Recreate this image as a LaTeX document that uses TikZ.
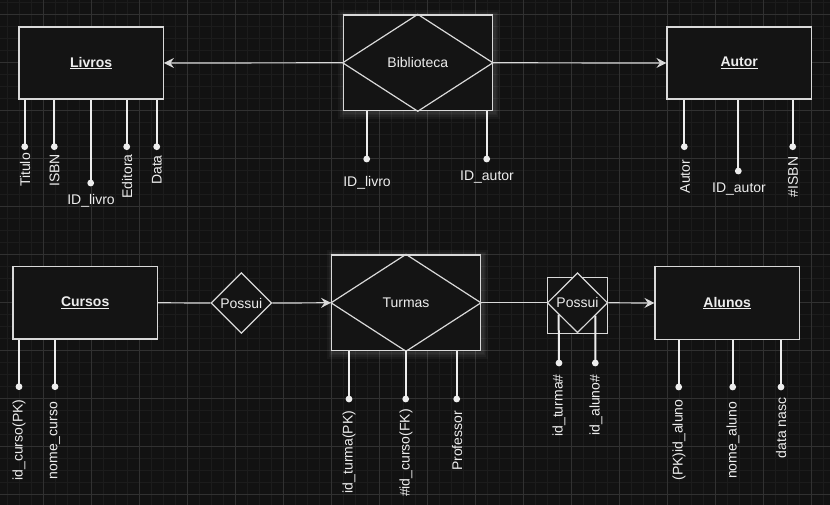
\documentclass[tikz,border=0pt]{standalone}
\usepackage{fontspec}
\setmainfont{Liberation Sans}
\usetikzlibrary{arrows.meta,shapes.geometric,calc}
\pgfdeclarelayer{bg}
\pgfsetlayers{bg,main}
\definecolor{bgc}{HTML}{121212}
\definecolor{minorc}{HTML}{1C1C1C}
\definecolor{majorc}{HTML}{313131}
\definecolor{edgec}{HTML}{D9D9D9}
\definecolor{txtc}{HTML}{EDEDED}
\definecolor{boxc}{HTML}{141414}
\newcommand\myfs{\fontsize{14}{16.8}\selectfont}
\begin{document}
\begin{tikzpicture}[x=1pt,y=-1pt,
  ent/.style={draw=edgec, fill=boxc, line width=1.2pt, inner sep=0pt,
    minimum width=144.3pt, minimum height=72pt, text=txtc, font=\myfs\bfseries},
  relbox/.style={draw=edgec, fill=boxc, line width=1.2pt, inner sep=0pt, text=txtc, font=\myfs},
  reldia/.style={diamond, draw=edgec, fill=boxc, line width=1.2pt, inner sep=0pt, text=txtc, font=\myfs,
    minimum width=60.7pt, minimum height=60.7pt},
  conn/.style={draw=edgec, line width=1.2pt},
  arr/.style={conn, -{Stealth[length=10pt,width=10pt,inset=3.5pt]}},
  attr/.style={draw=txtc, line width=2pt},
  dot/.style={circle, fill=txtc, inner sep=0pt, minimum size=6.8pt},
  lbl/.style={text=txtc, font=\myfs, inner sep=0pt},
  vlbl/.style={lbl, rotate=90},
  minorgrid/.style={draw=minorc, line width=1pt},
  majorgrid/.style={draw=majorc, line width=1pt},
  glow/.style={draw=white, line width=#1, opacity=0.035}
]
\useasboundingbox (0,0) rectangle (830,505);
\begin{pgfonlayer}{bg}
\begin{scope}
\clip (0,0) rectangle (830,505);
\fill[bgc] (0,0) rectangle (830,505);
\foreach \k in {1,...,69} \draw[minorgrid] ({-4.7+12*\k},0) -- ({-4.7+12*\k},505);
\foreach \k in {3,...,44} \draw[minorgrid] (0,{-33.7+12*\k}) -- (830,{-33.7+12*\k});
\foreach \k in {1,...,17} \draw[majorgrid] ({-4.7+48*\k},0) -- ({-4.7+48*\k},505);
\foreach \k in {1,...,11} \draw[majorgrid] (0,{-33.7+48*\k}) -- (830,{-33.7+48*\k});
\end{scope}
\end{pgfonlayer}

% ---------- top row ----------
\node[ent] (livros) at (91.2,63) {\underline{Livros}};
\node[ent] (autor) at (739.2,63) {\underline{Autor}};
\node[relbox, minimum width=149pt, minimum height=95.7pt] (bib) at (417.8,62.8) {};
\draw[conn] (bib.north) -- (bib.east) -- (bib.south) -- (bib.west) -- cycle;
\node[lbl] (bibt) at (bib.center) {Biblioteca};

\draw[arr] (bib.west) -- (livros.east);
\draw[arr] (bib.east) -- (autor.west);

% Livros attributes
\node[dot] (lv1) at (24.7,146.7) {};
\node[dot] (lv2) at (54.3,146.7) {};
\node[dot] (lv3) at (90.7,183) {};
\node[dot] (lv4) at (126.7,146.7) {};
\node[dot] (lv5) at (156.7,146.7) {};
\foreach \d in {lv1,lv2,lv3,lv4,lv5} \draw[attr] (livros.south -| \d) -- (\d.center);
\node[vlbl] (lvl1) at (25,170) {Titulo};
\node[vlbl] (lvl2) at (54.5,170.5) {ISBN};
\node[lbl] (lvl3) at (91,201) {ID\_livro};
\node[vlbl] (lvl4) at (127,176.5) {Editora};
\node[vlbl] (lvl5) at (157,170) {Data};

% Biblioteca attributes
\node[dot] (bi1) at (366.7,159) {};
\node[dot] (bi2) at (486.7,159) {};
\foreach \d in {bi1,bi2} \draw[attr] (bib.south -| \d) -- (\d.center);
\node[lbl] (bil1) at (367,183) {ID\_livro};
\node[lbl] (bil2) at (487,177.5) {ID\_autor};

% Autor attributes
\node[dot] (au1) at (684.3,146.7) {};
\node[dot] (au2) at (738.3,171) {};
\node[dot] (au3) at (792.7,146.7) {};
\foreach \d in {au1,au2,au3} \draw[attr] (autor.south -| \d) -- (\d.center);
\node[vlbl] (aul1) at (685,176.5) {Autor};
\node[lbl] (aul2) at (739,189) {ID\_autor};
\node[vlbl] (aul3) at (793,177) {\#ISBN};

% ---------- bottom row ----------
\node[ent, minimum height=72.3pt] (cursos) at (85.2,302.8) {\underline{Cursos}};
\node[reldia] (p1) at (241.3,303) {Possui};
\node[relbox, minimum width=148.7pt, minimum height=95.7pt] (turmas) at (406,302.8) {};
\draw[conn] (turmas.north) -- (turmas.east) -- (turmas.south) -- (turmas.west) -- cycle;
\node[lbl] (turt) at (turmas.center) {Turmas};
\node[relbox, minimum width=60.4pt, minimum height=56pt] (p2box) at (577.5,305.3) {};
\node[reldia, minimum width=60.4pt, minimum height=60pt] (p2) at (577.5,302.8) {Possui};
\node[ent, minimum height=72.6pt] (alunos) at (727.2,303) {\underline{Alunos}};

\draw[conn] (cursos.east) -- (p1.west);
\draw[arr] (p1.east) -- (turmas.west);
\draw[conn] (turmas.east) -- (p2.west);
\draw[arr] (p2.east) -- (alunos.west);

% Cursos attributes
\node[dot] (cu1) at (19,386.7) {};
\node[dot] (cu2) at (55,386.7) {};
\foreach \d in {cu1,cu2} \draw[attr] (cursos.south -| \d) -- (\d.center);
\node[vlbl] (cul1) at (19,440) {id\_curso(PK)};
\node[vlbl] (cul2) at (55,440.5) {nome\_curso};

% Turmas attributes
\node[dot] (tu1) at (349,399) {};
\node[dot] (tu2) at (405.7,399) {};
\node[dot] (tu3) at (456.7,399) {};
\foreach \d in {tu1,tu2,tu3} \draw[attr] (turmas.south -| \d) -- (\d.center);
\node[vlbl] (tul1) at (349,452) {id\_turma(PK)};
\node[vlbl] (tul2) at (406,453) {\#id\_curso(FK)};
\node[vlbl] (tul3) at (457,441) {Professor};

% Possui 2 attributes
\node[dot] (po1) at (559,363) {};
\node[dot] (po2) at (595.3,363) {};
\draw[attr] ($(p2.west)!0.387!(p2.south)$) -- (po1.center);
\draw[attr] ($(p2.south)!0.58!(p2.east)$) -- (po2.center);
\node[vlbl] (pol1) at (559,405.5) {id\_turma\#};
\node[vlbl] (pol2) at (596,405) {id\_aluno\#};

% Alunos attributes
\node[dot] (al1) at (678.7,387) {};
\node[dot] (al2) at (732.7,387) {};
\node[dot] (al3) at (781,387) {};
\foreach \d in {al1,al2,al3} \draw[attr] (alunos.south -| \d) -- (\d.center);
\node[vlbl] (all1) at (679,440) {(PK)id\_aluno};
\node[vlbl] (all2) at (733,440.3) {nome\_aluno};
\node[vlbl] (all3) at (781,428) {data nasc};

% glow behind the two boxed relationships
\begin{pgfonlayer}{bg}
\foreach \n in {bib,turmas}{
  \foreach \w in {12,8,5,2.5}{
    \draw[glow=\w pt] ([shift={(1.5,1.5)}]\n.north west) rectangle ([shift={(1.5,1.5)}]\n.south east);
  }
}
\end{pgfonlayer}
\end{tikzpicture}
\end{document}
